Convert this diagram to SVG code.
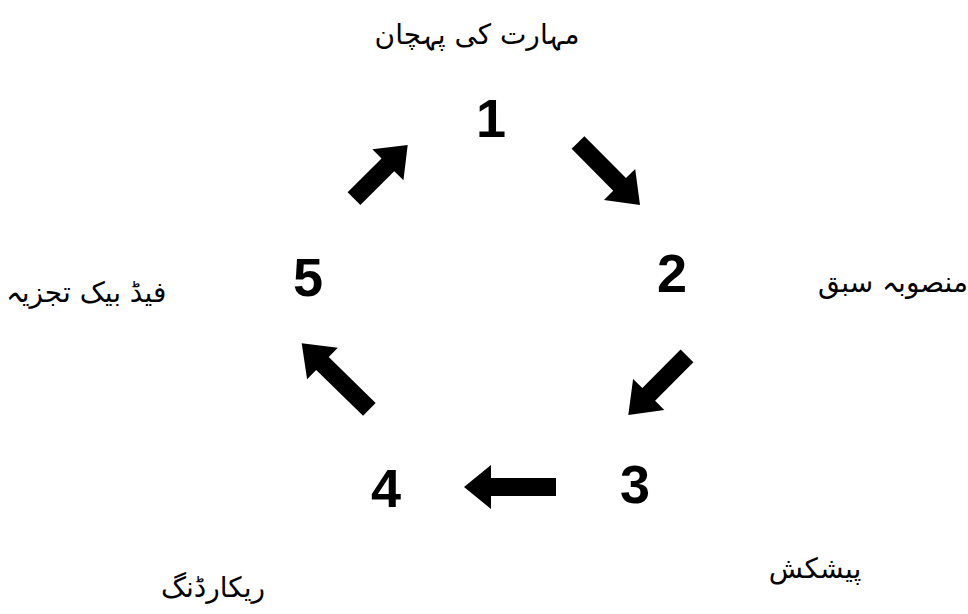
<svg xmlns="http://www.w3.org/2000/svg" width="968" height="614" viewBox="0 0 968 614">
<style>
.bg{fill:#ffffff}
.num{font-family:"Liberation Sans",Arial,sans-serif;font-weight:bold;font-size:54px;fill:#000;text-anchor:middle}
.lbl{font-family:"DejaVu Sans","Noto Sans",sans-serif;font-size:28px;fill:#000;text-anchor:middle}
.arrow{fill:#000;stroke:none}
</style>
<rect class="bg" x="0" y="0" width="968" height="614"/>
<g id="node1">
<text class="lbl" x="477" y="44">مہارت کی پہچان</text>
<text class="num" x="491" y="137">1</text>
</g>
<g id="node2">
<text class="lbl" x="893" y="292">منصوبہ سبق</text>
<text class="num" x="672" y="292">2</text>
</g>
<g id="node3">
<text class="lbl" x="815" y="578">پیشکش</text>
<text class="num" x="635" y="503">3</text>
</g>
<g id="node4">
<text class="lbl" x="213" y="597">ریکارڈنگ</text>
<text class="num" x="386" y="507">4</text>
</g>
<g id="node5">
<text class="lbl" x="86" y="302">فیڈ بیک تجزیہ</text>
<text class="num" x="308" y="296">5</text>
</g>
<g id="connectors">
<polygon class="arrow" points="571.61,148.84 613.19,190.75 603.96,199.9 640,205 635.2,168.92 625.97,178.07 584.39,136.16"/>
<polygon class="arrow" points="680.61,349.46 642.33,388.07 633.10,378.92 628.3,415 664.34,409.90 655.11,400.75 693.39,362.14"/>
<polygon class="arrow" points="556,478 491,478 491,465 464,487 491,509 491,496 556,496"/>
<polygon class="arrow" points="375.64,402.91 328.74,357.12 337.82,347.82 301.7,343.3 307.08,379.30 316.16,370.0 363.06,415.79"/>
<polygon class="arrow" points="347.64,192.28 381.53,158.42 372.34,149.23 407.7,145 403.44,180.36 394.25,171.16 360.36,205.02"/>
</g>
</svg>
